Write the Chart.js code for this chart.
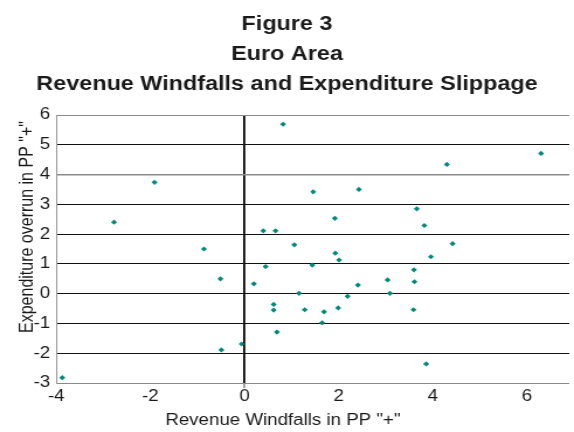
<!DOCTYPE html>
<html>
<head>
<meta charset="utf-8">
<script src="https://cdn.jsdelivr.net/npm/chart.js@4/dist/chart.umd.min.js"></script>
<style>
  html, body { margin: 0; padding: 0; background: #fff; }
</style>
</head>
<body>
<!-- the reference is stretched horizontally, so draw narrow and stretch it -->
<canvas id="fig" width="491" height="432" style="display:block;width:574px;height:432px"></canvas>
<script>
const titleLines = ['Figure 3', 'Euro Area', 'Revenue Windfalls and Expenditure Slippage'];
const xTitle = 'Revenue Windfalls in PP "+"';
const yTitle = 'Expenditure overrun in PP "+"';

// revenue windfalls (x) and expenditure overrun (y)
const windfalls = [-3.87, -2.77, -1.91, -0.86, -0.51, -0.49, -0.06, 0.20, 0.40, 0.45,
  0.62, 0.62, 0.66, 0.69, 0.82, 1.06, 1.16, 1.28, 1.44, 1.46,
  1.65, 1.69, 1.92, 1.93, 1.99, 2.01, 2.19, 2.41, 2.43, 3.04,
  3.09, 3.59, 3.60, 3.61, 3.66, 3.82, 3.86, 3.96, 4.30, 4.42, 6.30];
const overrun = [-2.82, 2.40, 3.74, 1.50, 0.50, -1.89, -1.69, 0.33, 2.11, 0.91,
  -0.36, -0.55, 2.11, -1.29, 5.69, 1.64, 0.01, -0.54, 0.96, 3.42,
  -0.98, -0.61, 2.53, 1.36, -0.48, 1.13, -0.09, 0.29, 3.50, 0.46,
  0.01, -0.54, 0.80, 0.40, 2.85, 2.29, -2.36, 1.24, 4.34, 1.68, 4.71];

const xTicks = [-4, -2, 0, 2, 4, 6];
const yTicks = [-3, -2, -1, 0, 1, 2, 3, 4, 5, 6];

const points = windfalls.map((x, i) => ({ x, y: overrun[i] }));
const font = '"Liberation Sans", Arial, sans-serif';

const axisTitles = {
  id: 'axisTitles',
  afterDraw(chart) {
    const ctx = chart.ctx;
    ctx.save();
    ctx.fillStyle = '#1a1a1a';
    ctx.font = '16px ' + font;
    ctx.textAlign = 'center';
    ctx.textBaseline = 'middle';
    ctx.fillText(xTitle, 242, 421);
    ctx.translate(24, 227);
    ctx.rotate(-Math.PI / 2);
    ctx.fillText(yTitle, 0, 0);
    ctx.restore();
  }
};

new Chart(document.getElementById('fig'), {
  type: 'scatter',
  data: {
    datasets: [{
      data: points,
      pointStyle: 'rectRot',
      pointRadius: 2.6,
      pointBackgroundColor: '#00897a',
      pointBorderWidth: 0
    }]
  },
  options: {
    responsive: false,
    animation: false,
    layout: { padding: 0 },
    plugins: {
      legend: { display: false },
      tooltip: { enabled: false },
      title: {
        display: true,
        text: titleLines,
        color: '#1a1a1a',
        font: { family: font, size: 20, weight: 'bold', lineHeight: 1.51 },
        padding: { top: 9, bottom: 15.4 }
      }
    },
    scales: {
      x: {
        type: 'linear',
        min: -4,
        max: 6.9,
        afterBuildTicks: s => { s.ticks = xTicks.map(v => ({ value: v })); },
        afterFit: s => { s.height = 49; },
        ticks: { color: '#1a1a1a', font: { family: font, size: 16 }, padding: -1 },
        grid: {
          color: c => c.tick && c.tick.value === 0 ? '#000' : 'rgba(0,0,0,0)',
          lineWidth: c => c.tick && c.tick.value === 0 ? 1.8 : 0,
          tickColor: '#999',
          tickLength: 5
        },
        border: { color: '#8a8a8a', width: 1 }
      },
      y: {
        min: -3,
        max: 6,
        afterBuildTicks: s => { s.ticks = yTicks.map(v => ({ value: v })); },
        afterFit: s => { s.width = 48; },
        ticks: { color: '#1a1a1a', font: { family: font, size: 16 }, padding: 5 },
        grid: {
          color: c => [6, 4, -3].includes(c.tick && c.tick.value) ? '#8a8a8a' : '#111',
          lineWidth: c => c.tick && c.tick.value === 4 ? 1.6 : 1,
          drawTicks: false
        },
        border: { color: '#9a9a9a', width: 1 }
      }
    }
  },
  plugins: [axisTitles]
});
</script>
</body>
</html>
